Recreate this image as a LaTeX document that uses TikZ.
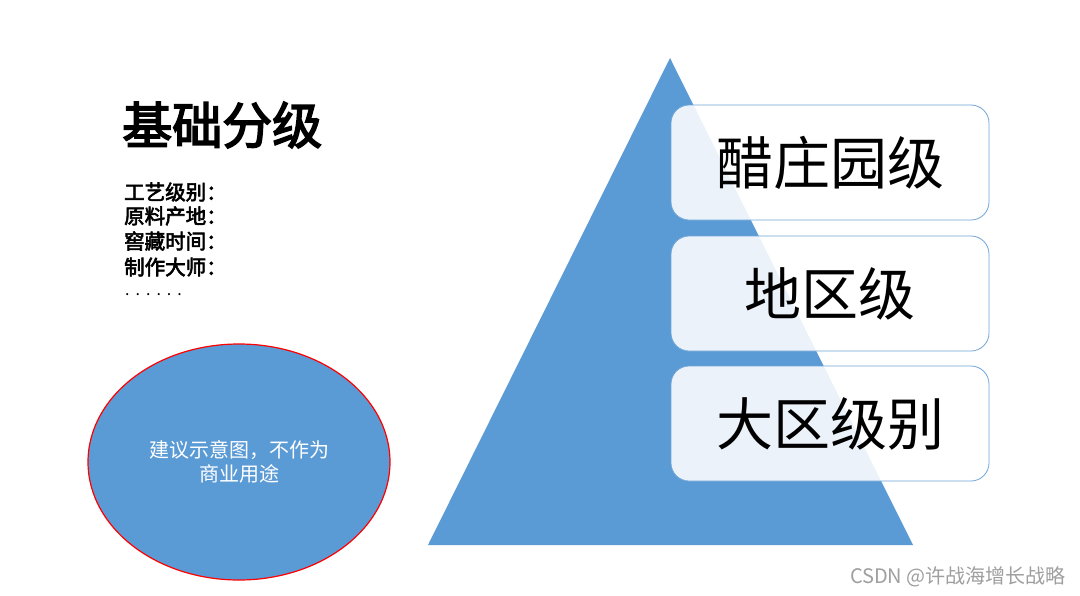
\documentclass[tikz,border=0pt]{standalone}
\usepackage{fontspec}
\setmainfont{Noto Sans CJK SC}
\newfontfamily\cjk{Noto Sans CJK SC}
\newcommand\strokedtext[2]{\special{pdf:literal direct #1 w 2 Tr}#2\special{pdf:literal direct 0 Tr 1 w}}
\usetikzlibrary{shapes.geometric}
\definecolor{offblue}{HTML}{5B9BD5}
\definecolor{boxline}{HTML}{6FA5DA}
\begin{document}
\begin{tikzpicture}[x=1pt,y=-1pt,
  levelbox/.style={draw=boxline,line width=0.8pt,fill=white,fill opacity=0.88,text opacity=1,
    rounded corners=18pt,minimum width=318pt,minimum height=115pt,inner sep=0pt,
    font=\cjk\fontsize{57}{60}\selectfont},
  listtxt/.style={anchor=west,inner sep=0pt,font=\cjk\fontsize{20.5}{22}\selectfont}]
\useasboundingbox (0,0) rectangle (1080,595);
\fill[white] (0,0) rectangle (1080,595);
% pyramid
\coordinate (apex) at (670,58);
\coordinate (bl) at (428,545);
\coordinate (br) at (913,545);
\fill[offblue] (apex) -- (br) -- (bl) -- cycle;
% level boxes
\node[levelbox] (l1) at (830,162.5) {醋庄园级};
\node[levelbox] (l2) at (830,293.5) {地区级};
\node[levelbox] (l3) at (830,423.5) {大区级别};
% title
\node[anchor=west,inner sep=0pt,font=\cjk\fontsize{50}{52}\selectfont] (title) at (122,125) {\strokedtext{1.6}{基础分级}};
% list
\node[listtxt] (a1) at (124,192) {\strokedtext{0.6}{工艺级别：}};
\node[listtxt] (a2) at (124,216) {\strokedtext{0.6}{原料产地：}};
\node[listtxt] (a3) at (124,241) {\strokedtext{0.6}{窖藏时间：}};
\node[listtxt] (a4) at (124,267) {\strokedtext{0.6}{制作大师：}};
\node[anchor=west,inner sep=0pt,font=\fontsize{16}{18}\selectfont] (a5) at (125,295) {.\hspace{6pt}.\hspace{6pt}.\hspace{6pt}.\hspace{6pt}.\hspace{6pt}.};
% ellipse
\node[ellipse,draw=red,line width=1.2pt,fill=offblue,minimum width=302pt,minimum height=236pt,inner sep=0pt] (ell) at (239,462) {};
\node[text=white,align=center,font=\cjk\fontsize{20}{24}\selectfont] (ellt) at (239,462) {建议示意图，不作为\\商业用途};
% watermark
\node[anchor=east,inner sep=0pt,text=gray!75,font=\cjk\fontsize{20}{22}\selectfont] (wm) at (1066,577) {CSDN @许战海增长战略};
\end{tikzpicture}
\end{document}
